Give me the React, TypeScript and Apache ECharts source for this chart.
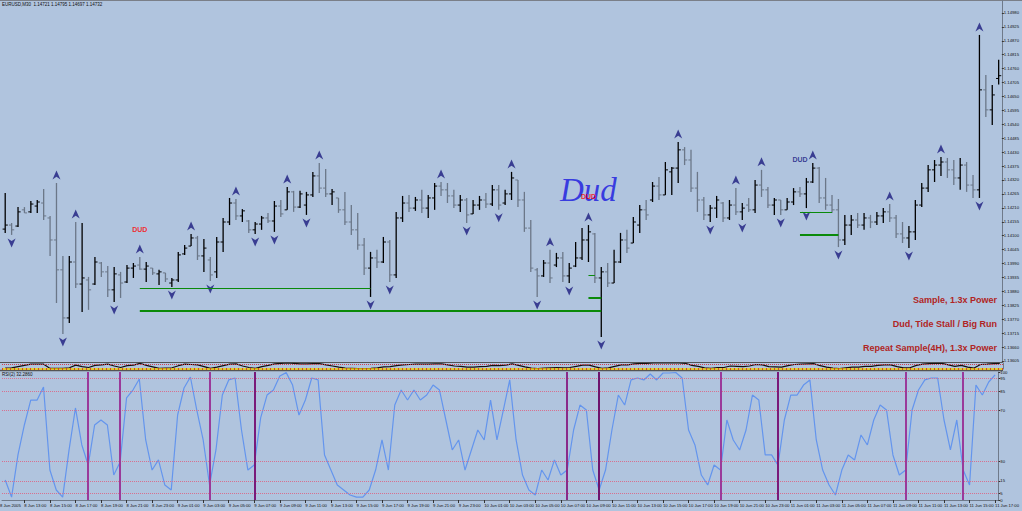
import React, { useEffect, useRef } from 'react';
import * as echarts from 'echarts';

// ---- OHLC (EURUSD M30) ----
const openP = [1.14126,1.14142,1.14138,1.14202,1.14194,1.14217,1.14229,1.14170,1.14083,1.13965,
1.13775,1.13996,1.13909,1.13925,1.13909,1.13992,1.13957,1.13886,1.13945,1.13917,
1.13972,1.13984,1.13968,1.13972,1.13949,1.13953,1.13913,1.13925,1.14028,1.14059,
1.14091,1.14020,1.14004,1.13957,1.14075,1.14154,1.14229,1.14178,1.14158,1.14123,
1.14146,1.14170,1.14158,1.14217,1.14202,1.14273,1.14213,1.14221,1.14261,1.14336,
1.14288,1.14265,1.14249,1.14202,1.14154,1.14123,1.14063,1.13972,1.14012,1.13996,
1.14075,1.13945,1.14170,1.14229,1.14209,1.14241,1.14209,1.14249,1.14296,1.14281,
1.14257,1.14221,1.14241,1.14186,1.14221,1.14241,1.14225,1.14281,1.14229,1.14265,
1.14320,1.14241,1.14130,1.13965,1.13941,1.13992,1.13984,1.14012,1.13941,1.13980,
1.14012,1.14083,1.14107,1.13933,1.13957,1.13913,1.13996,1.14083,1.14071,1.14142,
1.14202,1.14241,1.14296,1.14261,1.14352,1.14367,1.14439,1.14399,1.14288,1.14241,
1.14182,1.14209,1.14229,1.14170,1.14221,1.14194,1.14221,1.14202,1.14300,1.14281,
1.14221,1.14241,1.14202,1.14233,1.14273,1.14265,1.14312,1.14367,1.14249,1.14221,
1.14202,1.14083,1.14142,1.14162,1.14142,1.14170,1.14154,1.14178,1.14194,1.14170,
1.14107,1.14091,1.14115,1.14221,1.14288,1.14360,1.14379,1.14391,1.14360,1.14328,
1.14379,1.14300,1.14281,1.14676,1.14597,1.14721];

const highP = [1.14269,1.14150,1.14213,1.14213,1.14237,1.14241,1.14284,1.14178,1.14308,1.14020,
1.14020,1.14154,1.14150,1.13937,1.14016,1.13996,1.13980,1.13976,1.13957,1.13984,
1.13992,1.14016,1.13996,1.13972,1.13965,1.13953,1.13933,1.14036,1.14063,1.14107,
1.14099,1.14087,1.14016,1.14095,1.14170,1.14249,1.14245,1.14205,1.14162,1.14154,
1.14178,1.14190,1.14237,1.14241,1.14292,1.14277,1.14277,1.14273,1.14352,1.14387,
1.14363,1.14284,1.14249,1.14273,1.14221,1.14190,1.14091,1.14036,1.14044,1.14095,
1.14083,1.14194,1.14257,1.14261,1.14253,1.14281,1.14261,1.14308,1.14312,1.14308,
1.14281,1.14261,1.14249,1.14241,1.14257,1.14269,1.14300,1.14300,1.14281,1.14352,
1.14320,1.14273,1.14162,1.13972,1.14004,1.14044,1.14032,1.14036,1.13992,1.14075,
1.14130,1.14142,1.14111,1.13976,1.13992,1.14044,1.14111,1.14123,1.14174,1.14221,
1.14241,1.14312,1.14332,1.14391,1.14371,1.14470,1.14450,1.14439,1.14352,1.14253,
1.14221,1.14257,1.14233,1.14241,1.14288,1.14229,1.14249,1.14320,1.14360,1.14292,
1.14249,1.14241,1.14249,1.14288,1.14292,1.14328,1.14387,1.14371,1.14328,1.14261,
1.14245,1.14182,1.14182,1.14190,1.14190,1.14182,1.14194,1.14209,1.14225,1.14182,
1.14154,1.14138,1.14241,1.14308,1.14379,1.14399,1.14411,1.14407,1.14399,1.14407,
1.14391,1.14340,1.14893,1.14735,1.14695,1.14795];

const lowP = [1.14111,1.14103,1.14134,1.14190,1.14190,1.14190,1.14162,1.14020,1.13834,1.13712,
1.13755,1.13893,1.13799,1.13807,1.13905,1.13937,1.13858,1.13838,1.13854,1.13913,
1.13933,1.13965,1.13917,1.13945,1.13905,1.13917,1.13897,1.13917,1.14024,1.14059,
1.14004,1.13957,1.13921,1.13933,1.14036,1.14142,1.14162,1.14154,1.14111,1.14107,
1.14123,1.14150,1.14115,1.14174,1.14202,1.14194,1.14209,1.14182,1.14253,1.14269,
1.14253,1.14221,1.14190,1.14142,1.14103,1.14044,1.13945,1.13858,1.13972,1.13992,
1.13917,1.13933,1.14154,1.14194,1.14198,1.14190,1.14170,1.14202,1.14257,1.14229,
1.14209,1.14194,1.14150,1.14186,1.14202,1.14209,1.14217,1.14202,1.14221,1.14241,
1.14213,1.14115,1.13957,1.13858,1.13937,1.13913,1.13976,1.13917,1.13913,1.13976,
1.14004,1.13996,1.13913,1.13700,1.13897,1.13913,1.13992,1.14032,1.14071,1.14111,
1.14162,1.14233,1.14241,1.14261,1.14261,1.14308,1.14379,1.14273,1.14194,1.14162,
1.14154,1.14170,1.14154,1.14162,1.14182,1.14162,1.14194,1.14190,1.14253,1.14209,
1.14182,1.14182,1.14202,1.14221,1.14253,1.14209,1.14308,1.14229,1.14202,1.14190,
1.14055,1.14063,1.14103,1.14130,1.14123,1.14130,1.14142,1.14150,1.14154,1.14091,
1.14071,1.14051,1.14083,1.14213,1.14273,1.14312,1.14336,1.14328,1.14300,1.14281,
1.14273,1.14249,1.14249,1.14569,1.14537,1.14697];

const closeP = [1.14142,1.14123,1.14194,1.14190,1.14225,1.14233,1.14178,1.14083,1.13965,1.13775,
1.13996,1.13909,1.13933,1.13886,1.13996,1.13957,1.13886,1.13949,1.13913,1.13972,
1.13980,1.13968,1.13980,1.13953,1.13957,1.13929,1.13925,1.14024,1.14051,1.14091,
1.14020,1.14051,1.13945,1.14075,1.14154,1.14229,1.14178,1.14198,1.14123,1.14146,
1.14170,1.14158,1.14217,1.14186,1.14273,1.14213,1.14265,1.14261,1.14336,1.14288,
1.14265,1.14273,1.14202,1.14154,1.14123,1.14063,1.13972,1.14012,1.13996,1.14075,
1.13945,1.14170,1.14229,1.14209,1.14241,1.14209,1.14249,1.14296,1.14281,1.14257,
1.14221,1.14241,1.14182,1.14221,1.14241,1.14225,1.14281,1.14221,1.14265,1.14328,
1.14241,1.14130,1.13972,1.13941,1.13992,1.13933,1.14012,1.13941,1.13972,1.14012,
1.14083,1.14115,1.13933,1.13957,1.13913,1.13996,1.14083,1.14051,1.14154,1.14202,
1.14182,1.14296,1.14261,1.14360,1.14367,1.14439,1.14399,1.14288,1.14241,1.14182,
1.14209,1.14241,1.14170,1.14221,1.14194,1.14209,1.14202,1.14300,1.14281,1.14221,
1.14241,1.14202,1.14233,1.14273,1.14265,1.14312,1.14367,1.14249,1.14221,1.14202,
1.14083,1.14142,1.14162,1.14142,1.14170,1.14154,1.14178,1.14194,1.14170,1.14107,
1.14091,1.14115,1.14221,1.14288,1.14360,1.14379,1.14391,1.14360,1.14328,1.14379,
1.14300,1.14281,1.14676,1.14597,1.14656,1.14732];

// fractal arrows (bar indices)
const upArrowBars = [8, 11, 21, 29, 36, 44, 49, 68, 79, 85, 91, 105, 114, 118, 126, 138, 146, 152];
const downArrowBars = [1, 9, 17, 26, 32, 39, 42, 47, 57, 60, 72, 77, 83, 88, 93, 110, 115, 121, 125, 130, 141, 152];

// RSI(2)
const rsiValues = [15.6,2.3,35.2,58.6,78.1,78.1,88.3,23.4,7.8,2.3,
39.1,71.9,43.0,27.3,58.6,62.5,58.6,19.5,29.7,79.7,
85.9,94.5,46.9,23.4,31.3,11.7,7.8,66.4,87.5,96.1,
70.3,46.9,11.7,39.1,82.0,93.8,95.3,54.7,23.4,27.3,
64.1,82.0,85.9,96.9,99.5,89.8,66.4,78.1,95.3,93.8,
35.2,23.4,11.7,7.8,3.9,2.3,2.3,7.8,23.4,46.9,
23.4,74.2,85.9,78.1,85.9,78.1,82.0,89.8,85.9,62.5,
39.1,46.9,23.4,39.1,54.7,46.9,78.1,46.9,70.3,93.8,
46.9,19.5,7.8,3.9,23.4,15.6,31.3,19.5,23.4,54.7,
74.2,70.3,23.4,7.8,23.4,54.7,82.0,74.2,93.8,95.3,
93.8,98.4,93.8,99.2,99.2,99.6,95.3,54.7,43.0,19.5,
11.7,27.3,23.4,62.5,46.9,39.1,54.7,82.0,78.1,35.2,
35.2,27.3,62.5,82.0,82.0,89.8,93.8,46.9,23.4,11.7,
3.9,23.4,35.2,31.3,50.8,43.0,62.5,74.2,70.3,35.2,
19.5,23.4,70.3,85.9,93.8,95.3,95.3,62.5,39.1,62.5,
23.4,11.7,89.8,82.0,92.2,97.7];

// thin indicator strip (0..1)
const stripValues = [.17,.2,.4,.6,.8,.8,.8,.1,.1,.1,
.2,.65,.4,.25,.6,.7,.8,.5,.25,.55,
.65,.95,.6,.35,.1,.15,.2,.55,.8,.75,
.7,.4,.1,.3,.55,.8,.85,.5,.25,.1,
.4,.6,.85,.95,1,.95,.85,
.85,.9,.9,.7,.5,.3,.15,.1,.05,.05,
.1,.2,.35,.4,.55,.7,.75,.8,.8,.8,
.85,.85,.7,.5,.45,.3,.3,.4,.45,.6,
.55,.65,.85,.6,.35,.15,.05,.15,.2,.25,
.2,.25,.45,.65,.65,.35,.1,.2,.45,.7,
.7,.85,.95,.95,1,1,1,1,1,.95,
.6,.45,.2,.1,.25,.25,.5,.45,.4,.5,
.75,.7,.4,.35,.3,.55,.75,.8,.85,.9,
.55,.3,.15,.05,.2,.3,.3,.45,.45,.6,
.7,.7,.4,.2,.2,.6,.8,.9,.95,.95,
.7,.45,.6,.3,.15,.75,.8,.9,.95];

const purpleBars = [13, 18, 32, 39, 88, 93, 112, 121, 141, 150];
const purpleColors = ['#9a3a9a','#9a3a9a','#9a3a9a','#7a1a7a','#8a2a8a','#6e146e','#9a3a9a','#7a1a7a','#9a3a9a','#9a3a9a'];

const priceTicks = [1.13605,1.13660,1.13715,1.13770,1.13825,1.13880,1.13935,1.13990,1.14045,1.14100,
1.14155,1.14210,1.14265,1.14320,1.14375,1.14430,1.14485,1.14540,1.14595,1.14650,
1.14705,1.14760,1.14815,1.14870,1.14925,1.14980];
const rsiTicks = [0, 5, 15, 30, 70, 85, 95, 100];
const rsiLevels = [95, 85, 70, 30, 15, 5];

const firstDateLabel = '8 Jun 2005';
const labelBars = [3,7,11,15,19,23,27,31,35,39,43,47,51,55,59,63,67,71,75,79,83,87,91,95,99,103,107,111,115,119,123,127,131,135,139,143,147,151,155];
const timeLabels = ['8 Jun 13:00','8 Jun 15:00','8 Jun 17:00','8 Jun 19:00','8 Jun 21:00','8 Jun 23:00',
'9 Jun 01:00','9 Jun 03:00','9 Jun 05:00','9 Jun 07:00','9 Jun 09:00','9 Jun 11:00','9 Jun 13:00','9 Jun 15:00','9 Jun 17:00','9 Jun 19:00','9 Jun 21:00','9 Jun 23:00',
'10 Jun 01:00','10 Jun 03:00','10 Jun 05:00','10 Jun 07:00','10 Jun 09:00','10 Jun 11:00','10 Jun 13:00','10 Jun 15:00','10 Jun 17:00','10 Jun 19:00','10 Jun 21:00','10 Jun 23:00',
'11 Jun 01:00','11 Jun 03:00','11 Jun 05:00','11 Jun 07:00','11 Jun 09:00','11 Jun 11:00','11 Jun 13:00','11 Jun 15:00','11 Jun 17:00'];

// annotations anchored to bars
const annoTexts = ['DUD', 'Dud', 'DUD', 'DUD'];
const annoBars = [21, 91, 91, 124];
const annoPrices = [1.14126, 1.14281, 1.14253, 1.14399];

// green levels: [startBar, endBar, price, width]
const greenLevels = [
  [21, 57, 1.13893, 1],
  [21, 93, 1.13803, 2],
  [91, 93, 1.13854, 2],
  [91, 92, 1.13945, 1],
  [124, 129, 1.14194, 1],
  [124, 130, 1.14103, 2],
];

const cornerTexts = ['Sample, 1.3x Power', 'Dud, Tide Stall / Big Run', 'Repeat Sample(4H), 1.3x Power'];

const categories: string[] = openP.map((_, i) => {
  const t = 11 * 60 + 30 + 30 * i;
  const day = 8 + Math.floor(t / 1440);
  const m = t % 1440;
  const hh = String(Math.floor(m / 60)).padStart(2, '0');
  const mm = String(m % 60).padStart(2, '0');
  return `${day} Jun ${hh}:${mm}`;
});

const labelMap = new Map<number, string>();
labelBars.forEach((b, k) => labelMap.set(b, timeLabels[k]));

const BG = '#B0C4DE';
const AXIS = '#6f7a8a';
const FONT = 'Liberation Sans, Arial, sans-serif';

export default function App() {
  const ref = useRef<HTMLDivElement>(null);
  useEffect(() => {
    if (!ref.current) return;
    const chart = echarts.init(ref.current, undefined, { renderer: 'svg' });
    const gridL = 2, gridW = 1001;

    const ohlcData = openP.map((o, i) => [i, o, closeP[i], lowP[i], highP[i]]);

    const option: any = {
      animation: false,
      backgroundColor: BG,
      textStyle: { fontFamily: FONT },
      grid: [
        { left: gridL, width: gridW, top: 0, height: 362 },
        { left: gridL, width: gridW, top: 363, height: 6 },
        { left: gridL, width: gridW, top: 372, height: 128 },
      ],
      xAxis: [
        { type: 'category', gridIndex: 0, data: categories, show: false },
        { type: 'category', gridIndex: 1, data: categories, show: false },
        {
          type: 'category', gridIndex: 2, data: categories,
          axisLine: { show: true, lineStyle: { color: AXIS } },
          axisTick: { show: true, alignWithLabel: true, length: 3, interval: (i: number) => labelMap.has(i), lineStyle: { color: '#333' } },
          axisLabel: {
            interval: (i: number) => labelMap.has(i),
            formatter: (_v: string, i: number) => labelMap.get(i) || '',
            align: 'left', fontSize: 4.2, color: '#111', margin: 3,
          },
        },
      ],
      yAxis: [
        {
          type: 'value', gridIndex: 0, position: 'right', min: 1.13601, max: 1.15031,
          splitLine: { show: false },
          axisLine: { show: true, lineStyle: { color: AXIS } },
          axisTick: { show: true, length: 2, customValues: priceTicks, lineStyle: { color: '#333' } },
          axisLabel: { customValues: priceTicks, formatter: (v: number) => v.toFixed(5), fontSize: 4.2, color: '#111', margin: 2 },
        },
        {
          type: 'value', gridIndex: 1, position: 'right', min: 0, max: 1,
          splitLine: { show: false }, axisLine: { show: true, lineStyle: { color: AXIS } },
          axisTick: { show: false }, axisLabel: { show: false },
        },
        {
          type: 'value', gridIndex: 2, position: 'right', min: 0, max: 100,
          splitLine: { show: false },
          axisLine: { show: true, lineStyle: { color: AXIS } },
          axisTick: { show: true, length: 2, customValues: rsiTicks, lineStyle: { color: '#333' } },
          axisLabel: { customValues: rsiTicks, fontSize: 4.2, color: '#111', margin: 2 },
        },
      ],
      series: [
        {
          type: 'custom', name: 'EURUSD', xAxisIndex: 0, yAxisIndex: 0,
          data: ohlcData,
          encode: { x: 0, y: [1, 2, 3, 4] },
          renderItem: (_p: any, api: any) => {
            const i = api.value(0);
            const o = api.value(1), c = api.value(2), l = api.value(3), h = api.value(4);
            const ph = api.coord([i, h]);
            const pl = api.coord([i, l]);
            const po = api.coord([i, o]);
            const pc = api.coord([i, c]);
            const color = c >= o ? '#000000' : '#6b7788';
            const x = ph[0];
            return {
              type: 'group',
              children: [
                { type: 'line', shape: { x1: x, y1: ph[1], x2: x, y2: pl[1] }, style: { stroke: color, lineWidth: 1.3 } },
                { type: 'line', shape: { x1: x - 2.6, y1: po[1], x2: x, y2: po[1] }, style: { stroke: color, lineWidth: 1 } },
                { type: 'line', shape: { x1: x, y1: pc[1], x2: x + 2.6, y2: pc[1] }, style: { stroke: color, lineWidth: 1 } },
              ],
            };
          },
        },
        {
          type: 'scatter', name: 'FractalUp', xAxisIndex: 0, yAxisIndex: 0,
          data: upArrowBars.map((b) => [b, highP[b]]),
          symbol: 'path://M5,0 L10,10 L5,7 L0,10 Z', symbolSize: [8, 9], symbolOffset: [0, -8],
          itemStyle: { color: '#1c1c7e' }, silent: true,
        },
        {
          type: 'scatter', name: 'FractalDown', xAxisIndex: 0, yAxisIndex: 0,
          data: downArrowBars.map((b) => [b, lowP[b]]),
          symbol: 'path://M0,0 L5,3 L10,0 L5,10 Z', symbolSize: [8, 9], symbolOffset: [0, 8],
          itemStyle: { color: '#1c1c7e' }, silent: true,
        },
        {
          type: 'scatter', name: 'Notes', xAxisIndex: 0, yAxisIndex: 0,
          symbolSize: 1, itemStyle: { color: 'rgba(0,0,0,0)' }, silent: true,
          label: { show: true, position: 'inside' },
          labelLayout: { hideOverlap: false },
          data: annoTexts.map((t, k) => {
            let lab: any;
            if (k === 1) lab = { formatter: t, color: '#1717e0', fontSize: 33, fontStyle: 'italic', fontFamily: 'Liberation Serif, DejaVu Serif, serif' };
            else if (k === 3) lab = { formatter: t, color: '#141480', fontSize: 7, fontWeight: 'bold', fontFamily: FONT };
            else lab = { formatter: t, color: '#ff0000', fontSize: 7, fontWeight: 'bold', fontFamily: FONT };
            return { value: [annoBars[k], annoPrices[k]], label: lab };
          }),
          markLine: {
            silent: true, symbol: 'none', label: { show: false },
            data: greenLevels.map(([s, e, p, w]) => [
              { coord: [s, p], lineStyle: { color: '#0a8a0a', width: w, type: 'solid' } },
              { coord: [e, p] },
            ]),
          },
        },
        {
          type: 'line', name: 'Strip', xAxisIndex: 1, yAxisIndex: 1,
          data: stripValues, showSymbol: false, lineStyle: { color: '#111', width: 1.2 },
          markLine: {
            silent: true, symbol: 'none', label: { show: false },
            data: [
              { yAxis: 0.85, lineStyle: { color: '#d04050', width: 1, type: 'dotted' } },
              { yAxis: 0.08, lineStyle: { color: '#f0d000', width: 1.5, type: 'solid' } },
              { yAxis: 0.08, lineStyle: { color: '#d02020', width: 1.5, type: [1, 3] } },
            ],
          },
        },
        {
          type: 'line', name: 'RSI(2)', xAxisIndex: 2, yAxisIndex: 2,
          data: rsiValues, showSymbol: false, lineStyle: { color: '#6495ED', width: 1.2 },
          markLine: {
            silent: true, symbol: 'none', label: { show: false },
            data: [
              ...rsiLevels.map((v) => ({ yAxis: v, lineStyle: { color: '#d8708f', width: 1, type: 'dotted' } })),
              ...purpleBars.map((b, k) => ({ xAxis: b, lineStyle: { color: purpleColors[k], width: 2, type: 'solid' } })),
            ],
          },
        },
      ],
      graphic: [
        { type: 'line', shape: { x1: 0, y1: 0.5, x2: 1022, y2: 0.5 }, style: { stroke: '#7a7f88', lineWidth: 1 }, silent: true },
        { type: 'line', shape: { x1: 0, y1: 362.5, x2: 1003, y2: 362.5 }, style: { stroke: '#555', lineWidth: 1 }, silent: true },
        { type: 'line', shape: { x1: 0, y1: 370.5, x2: 1003, y2: 370.5 }, style: { stroke: '#555', lineWidth: 1.5 }, silent: true },
        { type: 'text', left: 2, top: 2, silent: true, style: { text: 'EURUSD,M30  1.14721 1.14795 1.14697 1.14732', fontSize: 4.5, fill: '#111', fontFamily: FONT } },
        { type: 'text', left: 2, top: 372, silent: true, style: { text: 'RSI(2) 32.2860', fontSize: 4.5, fill: '#111', fontFamily: FONT } },
        { type: 'text', left: 0, top: 503, silent: true, style: { text: firstDateLabel, fontSize: 4.2, fill: '#111', fontFamily: FONT } },
        ...cornerTexts.map((t, k) => ({
          type: 'text', right: 25, top: 295 + k * 24, silent: true,
          style: { text: t, fill: '#b02424', fontSize: 9, fontWeight: 'bold', fontFamily: FONT },
        })),
      ],
    };
    chart.setOption(option);
    return () => chart.dispose();
  }, []);
  return <div ref={ref} style={{ position: 'fixed', left: 0, top: 0, width: 1022, height: 511 }} />;
}
